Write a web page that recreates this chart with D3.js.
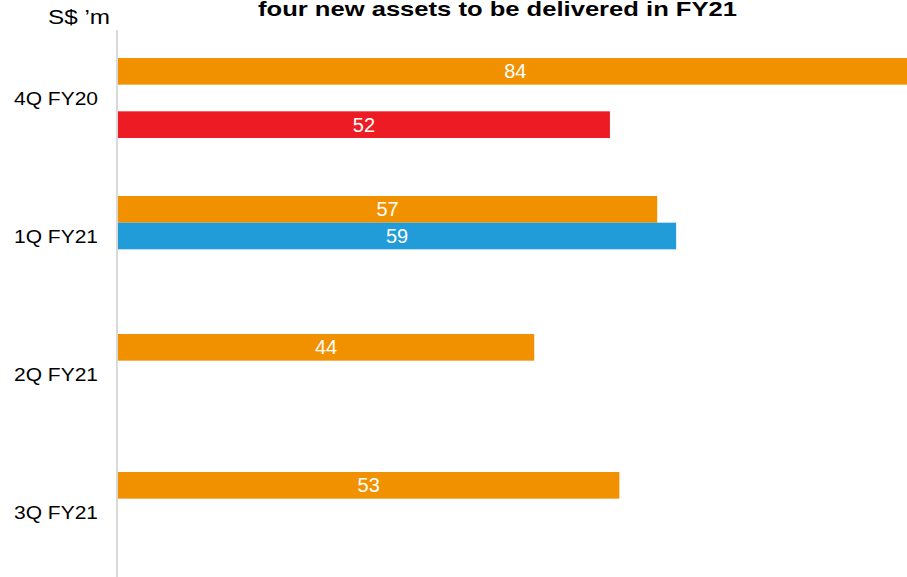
<!DOCTYPE html>
<html>
<head>
<meta charset="utf-8">
<script src="https://cdn.jsdelivr.net/npm/d3@7"></script>
<style>
  body { margin: 0; background: #fff; }
  svg { display: block; font-family: "Liberation Sans", Arial, sans-serif; }
</style>
</head>
<body>
<svg id="chart" width="907" height="577"></svg>
<script>
const svg = d3.select("#chart");

// data
const quarters = ["4Q FY20", "1Q FY21", "2Q FY21", "3Q FY21"];
const seriesNames = ["orange", "blue", "red"];
const orangeVals = [84, 57, 44, 53];
const blueVals = [null, 59, null, null];
const redVals = [52, null, null, null];
const COLORS = { orange: "#F29100", blue: "#229CD9", red: "#ED1C24" };

const rows = [];
quarters.forEach((q, i) => {
    const vals = { orange: orangeVals[i], blue: blueVals[i], red: redVals[i] };
    seriesNames.forEach(s => {
        if (vals[s] != null) rows.push({ q, s, v: vals[s] });
    });
});

const x0 = 118;
const xscale = d3.scaleLinear().domain([0, 84]).range([x0, x0 + 84 * 9.46]);
const yscale = d3.scaleBand().domain(quarters).range([31, 583]);
// bar slots inside each quarter band
const slot = d3.scaleBand().domain(seriesNames).range([27, 107]);

// title is cut off at the top in the source
svg.append("text")
    .attr("x", 258).attr("y", 16)
    .attr("textLength", 479)
    .attr("lengthAdjust", "spacingAndGlyphs")
    .style("font-weight", "bold")
    .style("font-size", "21px")
    .text("four new assets to be delivered in FY21");

svg.append("text")
    .attr("x", 48).attr("y", 24)
    .attr("textLength", 62)
    .attr("lengthAdjust", "spacingAndGlyphs")
    .style("font-size", "20px")
    .text("S$ \u2019m");

svg.selectAll(".bar").data(rows).join("rect")
    .attr("class", "bar")
    .attr("x", xscale(0))
    .attr("y", d => yscale(d.q) + slot(d.s))
    .attr("width", d => xscale(d.v) - xscale(0))
    .attr("height", slot.bandwidth())
    .attr("fill", d => COLORS[d.s]);

svg.selectAll(".val").data(rows).join("text")
    .attr("class", "val")
    .attr("x", d => (xscale(0) + xscale(d.v)) / 2)
    .attr("y", d => yscale(d.q) + slot(d.s) + slot.bandwidth() / 2 + 7)
    .attr("text-anchor", "middle")
    .attr("fill", "#fff")
    .style("font-size", "20px")
    .text(d => d.v);

svg.selectAll(".cat").data(quarters).join("text")
    .attr("class", "cat")
    .attr("x", 14)
    .attr("y", d => yscale(d) + yscale.bandwidth() / 2 + 5)
    .attr("textLength", 84)
    .attr("lengthAdjust", "spacingAndGlyphs")
    .style("font-size", "18px")
    .text(d => d);

svg.append("line")
    .attr("x1", 117).attr("x2", 117)
    .attr("y1", 30).attr("y2", 577)
    .attr("stroke", "#d9d9d9")
    .attr("stroke-width", 2);
</script>
</body>
</html>
